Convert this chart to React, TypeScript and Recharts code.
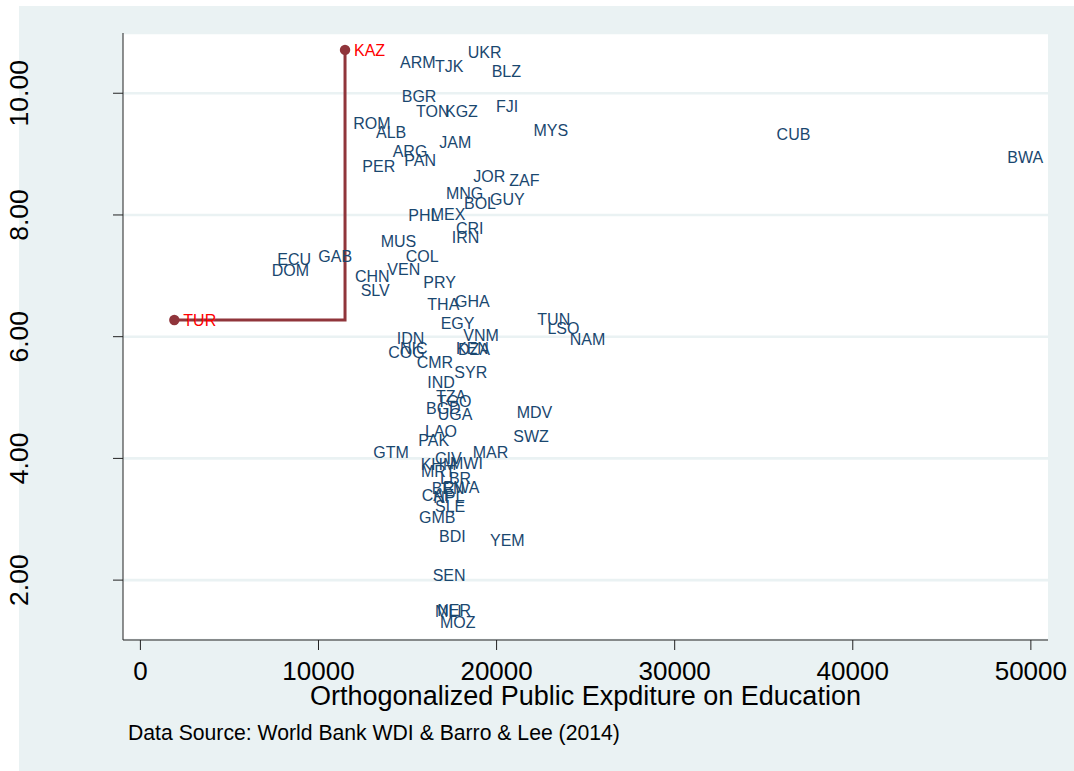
import { CartesianGrid, ComposedChart, Line, Scatter, XAxis, YAxis } from 'recharts'

// country codes with (expenditure, outcome)
const CODES = [
	'ARM', 'TJK', 'UKR', 'BLZ', 'BGR', 'TON', 'KGZ', 'FJI', 'ROM', 'ALB',
	'MYS', 'JAM', 'ARG', 'PAN', 'PER', 'JOR', 'ZAF', 'MNG', 'BOL', 'GUY',
	'PHL', 'MEX', 'CRI', 'IRN', 'MUS', 'COL', 'ECU', 'GAB', 'DOM', 'VEN',
	'CHN', 'SLV', 'PRY', 'THA', 'GHA', 'EGY', 'TUN', 'LSO', 'NAM', 'IDN',
	'VNM', 'COG', 'NIC', 'KEN', 'DZA', 'CMR', 'SYR', 'IND', 'TZA', 'TGO',
	'BGD', 'UGA', 'MDV', 'LAO', 'PAK', 'SWZ', 'GTM', 'MAR', 'CIV', 'MWI',
	'KHM', 'MRT', 'LBR', 'BEN', 'RWA', 'CAF', 'NPL', 'SLE', 'GMB', 'BDI',
	'YEM', 'SEN', 'NER', 'MLI', 'MOZ', 'CUB', 'BWA',
]
const X_VALUES = [
	14071, 16036, 17873, 19220, 14167, 14970, 16598, 19462, 11449, 12724,
	21567, 16278, 13661, 14313, 11954, 18187, 20208, 16654, 17665, 19125,
	14537, 15795, 17216, 16974, 12988, 14391, 7182, 9484, 6867, 13358,
	11544, 11864, 15380, 15604, 17159, 16356, 21781, 22348, 23605, 13886,
	17625, 13414, 14071, 17216, 17328, 15009, 17120, 15604, 16093, 16132,
	15531, 16188, 20624, 15475, 15099, 20433, 12572, 18153, 16036, 16879,
	15233, 15250, 16317, 15851, 16486, 15290, 15941, 16036, 15138, 16261,
	19125, 15907, 16166, 16036, 16317, 35217, 48171,
]
const Y_VALUES = [
	10.51, 10.437, 10.667, 10.355, 9.944, 9.709, 9.709, 9.78, 9.507, 9.359,
	9.389, 9.188, 9.04, 8.892, 8.794, 8.641, 8.575, 8.357, 8.192, 8.258,
	8.0, 8.012, 7.781, 7.634, 7.561, 7.326, 7.272, 7.326, 7.096, 7.108,
	6.986, 6.756, 6.887, 6.537, 6.575, 6.22, 6.286, 6.138, 5.957, 5.974,
	6.028, 5.737, 5.814, 5.809, 5.798, 5.573, 5.408, 5.244, 5.026, 4.932,
	4.823, 4.73, 4.751, 4.439, 4.302, 4.368, 4.094, 4.1, 4.002, 3.916,
	3.903, 3.793, 3.673, 3.509, 3.518, 3.387, 3.354, 3.206, 3.026, 2.713,
	2.659, 2.084, 1.497, 1.481, 1.3, 9.326, 8.948,
]

const HIGHLIGHT_CODES = ['TUR', 'KAZ']
const HIGHLIGHT_X = [1904, 11490]
const HIGHLIGHT_Y = [6.274, 10.712]

const X_TICKS = [0, 10000, 20000, 30000, 40000, 50000]
const Y_TICKS = [2, 4, 6, 8, 10]

const points = CODES.map((code, i) => ({ code, x: X_VALUES[i], y: Y_VALUES[i] }))
const highlight = HIGHLIGHT_CODES.map((code, i) => ({ code, x: HIGHLIGHT_X[i], y: HIGHLIGHT_Y[i] }))

const FONT = '"Liberation Sans", Arial, Helvetica, sans-serif'
const NAVY = '#1a476f'
const CRANBERRY = '#90353b'
const BG = '#eaf2f3'

function CodeLabel(props: any) {
	const { cx, cy, payload } = props
	return (
		<text x={cx + 9} y={cy} dy='0.36em' fill={NAVY} fontSize={16} fontFamily={FONT}>
			{payload.code}
		</text>
	)
}

function HighlightMark(props: any) {
	const { cx, cy, payload } = props
	return (
		<g>
			<circle cx={cx} cy={cy} r={5.2} fill={CRANBERRY} />
			<text x={cx + 9} y={cy} dy='0.36em' fill='#ff0000' fontSize={16} fontFamily={FONT}>
				{payload.code}
			</text>
		</g>
	)
}

function XTick(props: any) {
	const { x, payload } = props
	return (
		<text x={x} y={680} textAnchor='middle' fontSize={26} fontFamily={FONT} fill='#000'>
			{payload.value}
		</text>
	)
}

function YTick(props: any) {
	const { y, payload } = props
	return (
		<text
			x={28}
			y={y}
			transform={`rotate(-90, 28, ${y})`}
			textAnchor='middle'
			fontSize={26.5}
			fontFamily={FONT}
			fill='#000'
		>
			{Number(payload.value).toFixed(2)}
		</text>
	)
}

export default function App() {
	return (
		<div style={{ position: 'absolute', left: 0, top: 0, width: 1074, height: 771, background: '#fff' }}>
			<div style={{ position: 'absolute', left: 19, top: 6, width: 1055, height: 765, background: BG }} />
			<div style={{ position: 'absolute', left: 0, top: 0 }}>
				<ComposedChart width={1074} height={771} margin={{ top: 33, right: 26, bottom: 0, left: 0 }}>
					<CartesianGrid fill='#fff' vertical={false} stroke={BG} strokeWidth={2.6} />
					<XAxis
						type='number'
						dataKey='x'
						domain={[-977, 50962]}
						allowDataOverflow
						ticks={X_TICKS}
						tick={<XTick />}
						tickSize={10}
						height={131}
						stroke='#222'
						interval={0}
					/>
					<YAxis
						type='number'
						dataKey='y'
						domain={[1.016, 10.99]}
						allowDataOverflow
						ticks={Y_TICKS}
						tick={<YTick />}
						tickSize={10}
						width={123}
						stroke='#222'
						interval={0}
					/>
					<Scatter data={points} shape={<CodeLabel />} isAnimationActive={false} />
					<Line
						data={highlight}
						dataKey='y'
						type='stepAfter'
						stroke={CRANBERRY}
						strokeWidth={3}
						dot={false}
						activeDot={false}
						isAnimationActive={false}
					/>
					<Scatter data={highlight} shape={<HighlightMark />} isAnimationActive={false} />
				</ComposedChart>
			</div>
			<div
				style={{
					position: 'absolute',
					left: 0,
					width: 1171,
					top: 680,
					textAlign: 'center',
					fontFamily: FONT,
					fontSize: 27,
					lineHeight: '32px',
					color: '#000',
					whiteSpace: 'nowrap',
				}}
			>
				Orthogonalized Public Expditure on Education
			</div>
			<div
				style={{
					position: 'absolute',
					left: 128,
					top: 721,
					fontFamily: FONT,
					fontSize: 21.2,
					lineHeight: '24px',
					color: '#000',
					whiteSpace: 'nowrap',
				}}
			>
				Data Source: World Bank WDI &amp; Barro &amp; Lee (2014)
			</div>
		</div>
	)
}
